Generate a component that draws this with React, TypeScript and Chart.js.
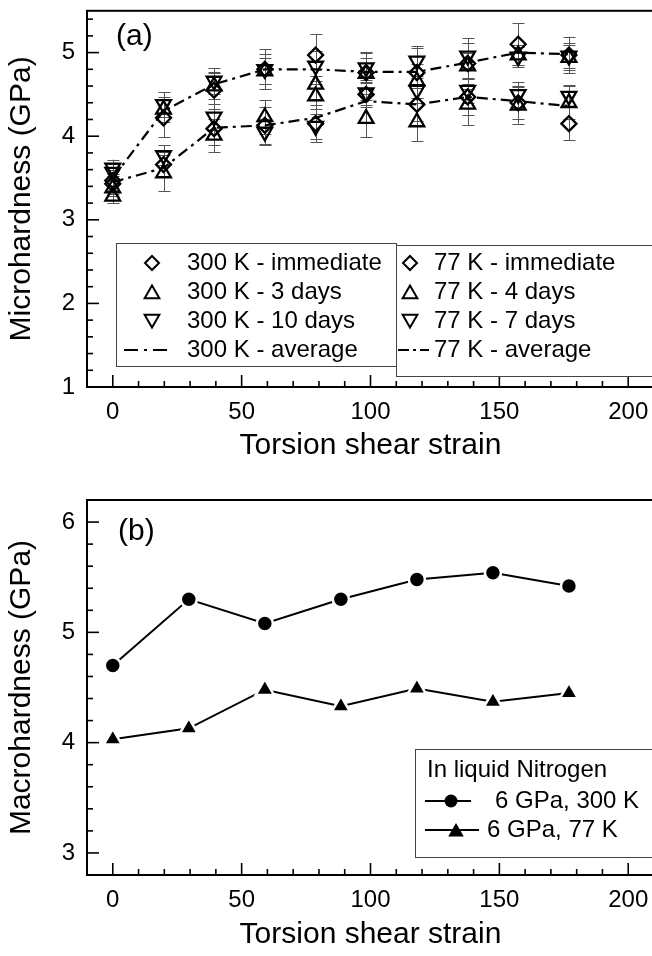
import React, { useEffect, useRef } from 'react';
import { Chart, registerables } from 'chart.js';

Chart.register(...registerables);

const FONT = "'Liberation Sans', Arial, Helvetica, sans-serif";

// ---------- Panel (a): microhardness ----------
const strainA = [0, 19.7, 39.3, 59, 78.7, 98.3, 118, 137.7, 157.3, 177];

const hard300Immediate = [3.47, 4.22, 4.55, 4.8, 4.97, 4.76, 4.76, 4.87, 5.1, 4.97];
const hard300Day3 = [3.38, 4.32, 4.6, 4.78, 4.62, 4.75, 4.66, 4.84, 4.97, 4.94];
const hard300Day10 = [3.62, 4.38, 4.66, 4.8, 4.84, 4.82, 4.9, 4.96, 4.95, 4.96];
const hard300Average = [3.5, 4.3, 4.62, 4.8, 4.8, 4.77, 4.77, 4.88, 5.0, 4.98];

const hard77Immediate = [3.43, 3.66, 4.09, 4.13, 4.15, 4.5, 4.38, 4.47, 4.4, 4.15];
const hard77Day4 = [3.28, 3.56, 4.01, 4.23, 4.48, 4.21, 4.17, 4.38, 4.37, 4.4];
const hard77Day7 = [3.57, 3.77, 4.23, 4.05, 4.12, 4.52, 4.55, 4.55, 4.5, 4.48];
const hard77Average = [3.45, 3.62, 4.1, 4.13, 4.22, 4.42, 4.38, 4.47, 4.42, 4.36];

const err300Immediate = [0.12, 0.23, 0.22, 0.24, 0.25, 0.25, 0.3, 0.3, 0.25, 0.22];
const err300Day3 = [0.1, 0.15, 0.15, 0.15, 0.18, 0.18, 0.2, 0.15, 0.12, 0.15];
const err300Day10 = [0.1, 0.15, 0.15, 0.18, 0.18, 0.18, 0.18, 0.15, 0.12, 0.15];
const err77Immediate = [0.12, 0.15, 0.2, 0.22, 0.22, 0.15, 0.2, 0.22, 0.2, 0.2];
const err77Day4 = [0.08, 0.22, 0.2, 0.2, 0.15, 0.22, 0.23, 0.25, 0.22, 0.2];
const err77Day7 = [0.1, 0.12, 0.15, 0.15, 0.15, 0.15, 0.15, 0.15, 0.15, 0.13];

const labels300 = ['300 K - immediate', '300 K - 3 days', '300 K - 10 days', '300 K - average'];
const labels77 = ['77 K - immediate', '77 K - 4 days', '77 K - 7 days', '77 K - average'];

// ---------- Panel (b): macrohardness ----------
const strainB = [0, 29.5, 59, 88.5, 118, 147.5, 177];
const macro6GPa300K = [4.7, 5.3, 5.08, 5.3, 5.48, 5.54, 5.42];
const macro6GPa77K = [4.03, 4.13, 4.48, 4.33, 4.49, 4.37, 4.45];
const legendTitleB = 'In liquid Nitrogen';
const labelsB = ['6 GPa, 300 K', '6 GPa, 77 K'];

// ---------- axes ----------
const xMajorTicks = [0, 50, 100, 150, 200];
const yMajorTicksA = [1, 2, 3, 4, 5];
const yMajorTicksB = [3, 4, 5, 6];
const xTitle = 'Torsion shear strain';
const yTitleA = 'Microhardness (GPa)';
const yTitleB = 'Macrohardness (GPa)';

function tickValues(min: number, max: number, step: number) {
  const out: { value: number }[] = [];
  const n = Math.floor((max - min) / step + 1e-9);
  for (let i = 0; i <= n; i++) out.push({ value: Math.round((min + i * step) * 1000) / 1000 });
  return out;
}

function drawMarker(ctx: CanvasRenderingContext2D, kind: string, x: number, y: number, r: number) {
  ctx.beginPath();
  if (kind === 'diamond') {
    ctx.moveTo(x - r, y); ctx.lineTo(x, y - r); ctx.lineTo(x + r, y); ctx.lineTo(x, y + r); ctx.closePath();
  } else if (kind === 'up') {
    ctx.moveTo(x, y - r); ctx.lineTo(x + r * 0.866, y + r / 2); ctx.lineTo(x - r * 0.866, y + r / 2); ctx.closePath();
  } else if (kind === 'down') {
    ctx.moveTo(x, y + r); ctx.lineTo(x + r * 0.866, y - r / 2); ctx.lineTo(x - r * 0.866, y - r / 2); ctx.closePath();
  } else if (kind === 'circle') {
    ctx.arc(x, y, r, 0, Math.PI * 2);
  }
}

const framePlugin = {
  id: 'frameTicks',
  afterDraw(chart: any, _args: any, opts: any) {
    const { ctx, chartArea } = chart;
    const { left, right, top, bottom } = chartArea;
    const xs = chart.scales.x;
    const ys = chart.scales.y;
    ctx.save();
    ctx.strokeStyle = '#000';
    ctx.lineWidth = 1.6;
    xs.ticks.forEach((t: any) => {
      const px = xs.getPixelForValue(t.value);
      if (px < left + 2 || px > right - 2) return;
      const len = opts.xMajor.includes(t.value) ? 12 : 6;
      ctx.beginPath(); ctx.moveTo(px, bottom); ctx.lineTo(px, bottom - len); ctx.stroke();
    });
    ys.ticks.forEach((t: any) => {
      const py = ys.getPixelForValue(t.value);
      if (py < top + 2 || py > bottom - 2) return;
      const len = opts.yMajor.includes(t.value) ? 12 : 6;
      ctx.beginPath(); ctx.moveTo(left, py); ctx.lineTo(left + len, py); ctx.stroke();
    });
    ctx.lineWidth = 2;
    ctx.strokeRect(left, top, right - left, bottom - top);
    ctx.fillStyle = '#000';
    ctx.font = `30px ${FONT}`;
    ctx.textBaseline = 'middle';
    ctx.textAlign = 'left';
    ctx.fillText(opts.panel, opts.panelX, opts.panelY);
    ctx.restore();
  },
};

const errorBarPlugin = {
  id: 'errorBars',
  beforeDatasetsDraw(chart: any) {
    const { ctx } = chart;
    const xs = chart.scales.x;
    const ys = chart.scales.y;
    ctx.save();
    ctx.strokeStyle = '#555';
    ctx.lineWidth = 1;
    chart.data.datasets.forEach((ds: any) => {
      if (!ds.errors) return;
      ds.data.forEach((p: any, i: number) => {
        const e = ds.errors[i];
        const px = Math.round(xs.getPixelForValue(p.x)) + 0.5;
        const y1 = ys.getPixelForValue(p.y + e);
        const y2 = ys.getPixelForValue(p.y - e);
        ctx.beginPath();
        ctx.moveTo(px, y1); ctx.lineTo(px, y2);
        ctx.moveTo(px - 6, Math.round(y1) + 0.5); ctx.lineTo(px + 6, Math.round(y1) + 0.5);
        ctx.moveTo(px - 6, Math.round(y2) + 0.5); ctx.lineTo(px + 6, Math.round(y2) + 0.5);
        ctx.stroke();
      });
    });
    ctx.restore();
  },
};

const legendPlugin = {
  id: 'boxLegend',
  afterDraw(chart: any, _args: any, opts: any) {
    const { ctx } = chart;
    ctx.save();
    opts.boxes.forEach((box: any) => {
      ctx.fillStyle = '#fff';
      ctx.fillRect(box.x, box.y, box.w, box.h);
      ctx.strokeStyle = '#444';
      ctx.lineWidth = 1;
      ctx.strokeRect(box.x + 0.5, box.y + 0.5, box.w, box.h);
      ctx.font = `24px ${FONT}`;
      ctx.textBaseline = 'middle';
      ctx.textAlign = 'left';
      box.items.forEach((it: any) => {
        ctx.strokeStyle = '#000';
        ctx.fillStyle = '#000';
        if (it.line) {
          ctx.lineWidth = 2.2;
          ctx.setLineDash(it.dash || []);
          ctx.beginPath(); ctx.moveTo(it.line[0], it.y); ctx.lineTo(it.line[1], it.y); ctx.stroke();
          ctx.setLineDash([]);
        }
        if (it.marker) {
          drawMarker(ctx, it.marker, it.mx, it.my ?? it.y, it.r);
          if (it.filled) { ctx.fill(); } else { ctx.lineWidth = 2; ctx.stroke(); }
        }
        ctx.fillStyle = '#000';
        ctx.fillText(it.text, it.tx, it.y);
      });
    });
    ctx.restore();
  },
};

function xScale(height: number, titlePadBottom: number) {
  return {
    type: 'linear',
    min: -10,
    max: 210,
    grid: { display: false, drawTicks: false },
    border: { display: false },
    afterBuildTicks: (scale: any) => { scale.ticks = tickValues(-10, 210, 10); },
    ticks: {
      autoSkip: false, maxRotation: 0, minRotation: 0, padding: 11, color: '#000',
      font: { family: FONT, size: 24 },
      callback: (v: number) => (xMajorTicks.includes(v) ? String(v) : ''),
    },
    title: {
      display: true, text: xTitle, color: '#000',
      font: { family: FONT, size: 30 }, padding: { top: 0, bottom: titlePadBottom },
    },
    afterFit: (scale: any) => { scale.height = height; scale.paddingLeft = 0; scale.paddingRight = 0; },
  };
}

function yScale(min: number, max: number, majors: number[], title: string) {
  return {
    type: 'linear',
    min,
    max,
    grid: { display: false, drawTicks: false },
    border: { display: false },
    afterBuildTicks: (scale: any) => { scale.ticks = tickValues(min, max, 0.2); },
    ticks: {
      autoSkip: false, padding: 12, color: '#000',
      font: { family: FONT, size: 24 },
      callback: (v: number) => (majors.includes(v) ? String(v) : ''),
    },
    title: {
      display: true, text: title, color: '#000',
      font: { family: FONT, size: 30 }, padding: { top: 4, bottom: 0 },
    },
    afterFit: (scale: any) => { scale.width = 87; scale.paddingTop = 0; scale.paddingBottom = 0; },
  };
}

function openSeries(label: string, xs: number[], ys: number[], style: string, rot: number, r: number, errs: number[]) {
  return {
    label,
    data: xs.map((x, i) => ({ x, y: ys[i] })),
    showLine: false,
    pointStyle: style,
    pointRotation: rot,
    pointRadius: r,
    pointBorderWidth: 2.3,
    pointBorderColor: '#000',
    pointBackgroundColor: 'rgba(0,0,0,0)',
    errors: errs,
  };
}

function avgSeries(label: string, xs: number[], ys: number[]) {
  return {
    label,
    data: xs.map((x, i) => ({ x, y: ys[i] })),
    showLine: true,
    borderColor: '#000',
    borderWidth: 2.2,
    borderDash: [11, 5, 3, 5],
    pointRadius: 0,
    fill: false,
    tension: 0,
  };
}

export default function App() {
  const refA = useRef<HTMLCanvasElement>(null);
  const refB = useRef<HTMLCanvasElement>(null);

  useEffect(() => {
    const chartA = new Chart(refA.current as HTMLCanvasElement, {
      type: 'line',
      data: {
        datasets: [
          avgSeries(labels300[3], strainA, hard300Average),
          avgSeries(labels77[3], strainA, hard77Average),
          openSeries(labels300[0], strainA, hard300Immediate, 'rectRot', 0, 7.5, err300Immediate),
          openSeries(labels300[1], strainA, hard300Day3, 'triangle', 0, 8.5, err300Day3),
          openSeries(labels300[2], strainA, hard300Day10, 'triangle', 180, 8.5, err300Day10),
          openSeries(labels77[0], strainA, hard77Immediate, 'rectRot', 0, 7.5, err77Immediate),
          openSeries(labels77[1], strainA, hard77Day4, 'triangle', 0, 8.5, err77Day4),
          openSeries(labels77[2], strainA, hard77Day7, 'triangle', 180, 8.5, err77Day7),
        ] as any,
      },
      options: {
        responsive: false,
        devicePixelRatio: 1,
        animation: false,
        layout: { padding: { left: 0, right: 16, top: 8, bottom: 0 } },
        scales: { x: xScale(100, 23), y: yScale(1, 5.5, yMajorTicksA, yTitleA) } as any,
        plugins: {
          legend: { display: false },
          tooltip: { enabled: false },
          frameTicks: { xMajor: xMajorTicks, yMajor: yMajorTicksA, panel: '(a)', panelX: 116, panelY: 37 },
          boxLegend: {
            boxes: [
              {
                x: 116, y: 243, w: 280, h: 123,
                items: [
                  { text: labels300[0], tx: 187, y: 263, marker: 'diamond', mx: 152, r: 7 },
                  { text: labels300[1], tx: 187, y: 292, marker: 'up', mx: 152, my: 294, r: 8.5 },
                  { text: labels300[2], tx: 187, y: 321, marker: 'down', mx: 152, my: 319, r: 8.5 },
                  { text: labels300[3], tx: 187, y: 350, line: [124, 169], dash: [14, 6, 3, 6] },
                ],
              },
              {
                x: 396, y: 245, w: 280, h: 131,
                items: [
                  { text: labels77[0], tx: 434, y: 263, marker: 'diamond', mx: 410, r: 7 },
                  { text: labels77[1], tx: 434, y: 292, marker: 'up', mx: 410, my: 294, r: 8.5 },
                  { text: labels77[2], tx: 434, y: 321, marker: 'down', mx: 410, my: 319, r: 8.5 },
                  { text: labels77[3], tx: 434, y: 350, line: [398, 429], dash: [11, 4, 3, 4] },
                ],
              },
            ],
          },
        } as any,
      },
      plugins: [errorBarPlugin, framePlugin, legendPlugin] as any,
    });

    const chartB = new Chart(refB.current as HTMLCanvasElement, {
      type: 'line',
      data: {
        datasets: [
          {
            label: labelsB[0],
            data: strainB.map((x, i) => ({ x, y: macro6GPa300K[i] })),
            borderColor: '#000', borderWidth: 2, tension: 0,
            pointStyle: 'circle', pointRadius: 8, pointBorderWidth: 2.5,
            pointBorderColor: '#fff', pointBackgroundColor: '#000',
          },
          {
            label: labelsB[1],
            data: strainB.map((x, i) => ({ x, y: macro6GPa77K[i] })),
            borderColor: '#000', borderWidth: 2, tension: 0,
            pointStyle: 'triangle', pointRadius: 10.5, pointBorderWidth: 2.5,
            pointBorderColor: '#fff', pointBackgroundColor: '#000',
          },
        ] as any,
      },
      options: {
        responsive: false,
        devicePixelRatio: 1,
        animation: false,
        layout: { padding: { left: 0, right: 16, top: 8, bottom: 0 } },
        scales: { x: xScale(81, 3), y: yScale(2.8, 6.2, yMajorTicksB, yTitleB) } as any,
        plugins: {
          legend: { display: false },
          tooltip: { enabled: false },
          frameTicks: { xMajor: xMajorTicks, yMajor: yMajorTicksB, panel: '(b)', panelX: 118, panelY: 45 },
          boxLegend: {
            boxes: [
              {
                x: 415, y: 262, w: 280, h: 108,
                items: [
                  { text: legendTitleB, tx: 427, y: 283 },
                  { text: labelsB[0], tx: 495, y: 314, line: [425, 471], marker: 'circle', mx: 451, r: 6.5, filled: true },
                  { text: labelsB[1], tx: 487, y: 343, line: [425, 479], marker: 'up', mx: 456, my: 345, r: 9, filled: true },
                ],
              },
            ],
          },
        } as any,
      },
      plugins: [framePlugin, legendPlugin] as any,
    });

    return () => {
      chartA.destroy();
      chartB.destroy();
    };
  }, []);

  return (
    <div style={{ position: 'fixed', left: 0, top: 0, width: 652, height: 956, overflow: 'hidden', background: '#fff' }}>
      <canvas ref={refA} width={670} height={487} style={{ position: 'absolute', left: 0, top: 0, width: 670, height: 487 }} />
      <canvas ref={refB} width={670} height={469} style={{ position: 'absolute', left: 0, top: 487, width: 670, height: 469 }} />
    </div>
  );
}
